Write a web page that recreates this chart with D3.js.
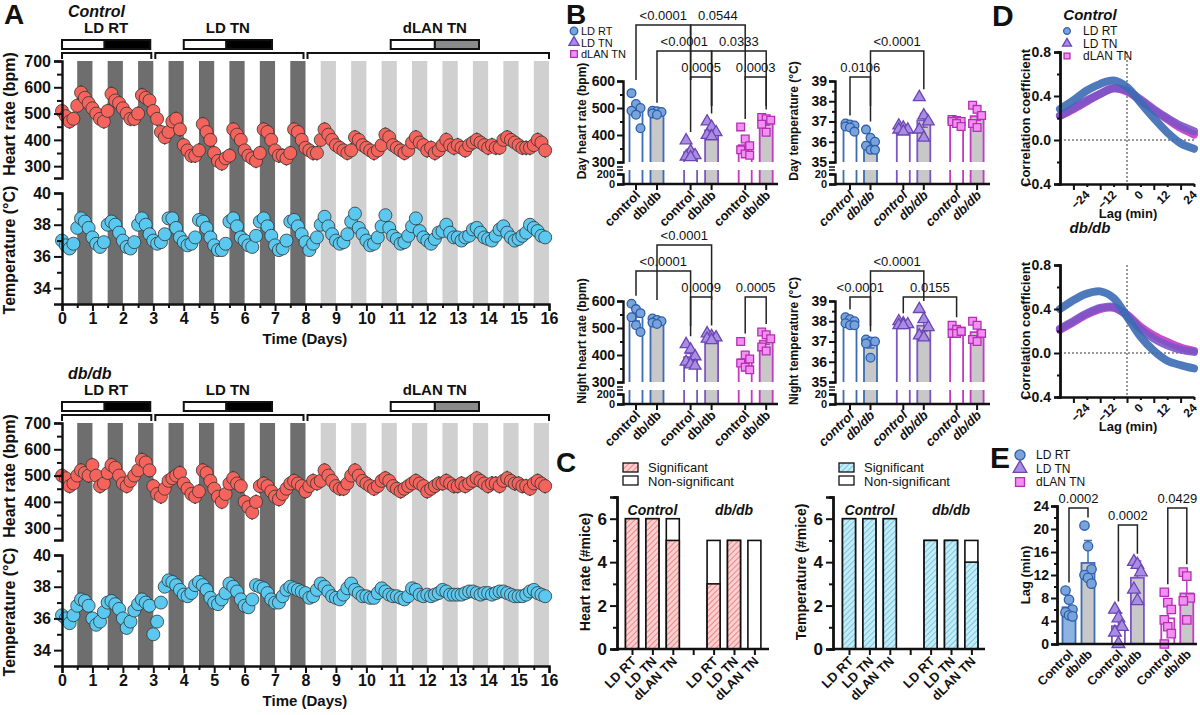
<!DOCTYPE html>
<html><head><meta charset="utf-8">
<script src="https://cdn.jsdelivr.net/npm/d3@7"></script>
<style>
body{margin:0;background:#fff}
svg{font-family:"Liberation Sans",Arial,sans-serif}
.ax .domain{stroke:#111;stroke-width:2.4}
.ax .tick line{stroke:#111;stroke-width:2}
.ax text{font-weight:bold;fill:#111}
</style></head><body>
<svg id="c" width="1200" height="715"></svg>
<script>
// ---------------- DATA ----------------
// Panel A: 8 samples per day (every 3 h), days 0..15
const ctrlHR = [
 [510,490,470,480,530,580,560,540],[520,500,480,470,510,575,550,540],[520,500,480,480,500,570,560,550],
 [510,480,430,410,430,470,480,440],[380,360,340,340,360,460,430,400],[350,320,310,330,340,440,420,400],
 [360,340,330,320,350,440,430,400],[360,340,340,330,350,440,430,400],[370,360,350,350,400,440,420,400],
 [380,370,360,350,360,410,400,380],[370,360,350,360,380,420,410,380],[370,360,350,360,390,410,390,380],
 [360,370,350,360,380,400,380,370],[380,370,360,380,390,400,390,380],[370,380,370,370,400,410,400,390],
 [380,370,370,370,380,400,390,360]];
const ctrlT = [
 [37.0,36.7,36.5,36.8,37.8,38.4,38.2,37.8],[37.2,36.8,36.6,36.9,38.0,38.2,38.0,37.5],[37.0,36.6,36.5,36.9,38.0,38.4,38.0,37.4],
 [37.0,36.8,36.9,37.4,38.4,38.4,37.8,37.2],[36.9,36.7,36.8,37.2,38.3,38.2,37.8,37.2],[36.7,36.4,36.4,36.8,38.2,38.4,37.9,37.2],
 [37.0,36.7,36.6,37.3,38.2,38.4,37.9,37.3],[36.7,36.4,36.5,37.0,38.2,38.3,37.9,37.4],[36.9,36.4,36.8,37.2,38.0,38.5,37.9,37.4],
 [37.0,36.8,36.9,37.4,38.2,38.7,37.8,37.4],[37.0,36.7,36.8,37.2,37.9,38.6,37.8,37.3],[37.1,36.8,36.9,37.3,37.9,38.4,37.6,37.2],
 [37.0,36.8,37.1,37.5,37.6,38.0,37.5,37.2],[37.2,37.0,37.2,37.3,37.7,37.8,37.5,37.2],[37.1,37.0,37.3,37.7,37.9,37.5,37.2,37.0],
 [37.1,37.3,37.5,38.0,37.8,37.6,37.3,37.2]];
const dbHR = [
 [500,490,460,470,500,520,510,500],[540,500,460,470,510,540,530,500],[470,460,480,500,520,560,550,520],
 [460,430,420,450,480,490,500,510],[470,450,430,420,440,520,510,480],[450,420,400,430,470,490,470,460],
 [400,380,360,400,460,470,460,440],[420,410,430,450,470,480,470,460],[440,460,480,470,480,520,500,480],
 [460,450,450,470,500,520,500,480],[470,460,450,460,480,490,480,460],[450,440,450,460,470,480,470,460],
 [440,450,460,470,470,480,470,460],[460,470,460,470,480,490,480,470],[460,470,470,460,480,490,480,470],
 [470,460,460,450,470,480,470,460]];
const dbT = [
 [36.2,36.0,35.7,36.2,36.8,37.2,37.1,36.8],[36.0,35.6,35.8,36.4,37.0,37.1,36.9,36.6],[36.0,35.4,35.8,36.5,36.9,37.2,37.0,36.8],
 [35.0,35.8,37.0,38.0,38.4,38.3,38.1,37.8],[37.5,37.4,37.6,38.1,38.3,38.1,37.8,37.3],[37.0,36.9,37.2,37.6,38.2,38.0,37.7,37.2],
 [36.8,36.7,37.2,38.1,38.0,37.9,37.6,37.2],[37.0,37.0,37.4,37.8,38.0,37.9,37.8,37.7],[37.6,37.3,37.4,37.8,38.2,38.0,37.7,37.4],
 [37.3,37.2,37.5,37.9,38.2,37.8,37.6,37.4],[37.4,37.3,37.3,37.6,37.9,37.7,37.5,37.4],[37.4,37.3,37.2,37.4,37.9,37.8,37.5,37.4],
 [37.5,37.4,37.5,37.6,37.8,37.7,37.5,37.5],[37.5,37.5,37.6,37.7,37.7,37.6,37.5,37.6],[37.6,37.5,37.6,37.7,37.7,37.6,37.5,37.4],
 [37.4,37.4,37.5,37.7,37.8,37.6,37.5,37.4]];
const hrErr = 28, tErr = 0.3;
const dayTicks = d3.range(0,17);
const conditions = ["LD RT","LD TN","dLAN TN"];
const groupsX = ["control","db/db"];

// Panel B: [condition][control, db/db] individual mice
const dayHR = [[[555,515,500,490,475,425],[490,488,485,480,475]],
               [[380,340,325,320,318],[450,430,410,400,395]],
               [[430,385,360,345,330,325],[465,460,455,440,410]]];
const dayT  = [[[36.9,36.85,36.8,36.75,36.7,36.5],[36.6,36.2,36.0,35.8,35.6,35.6]],
               [[36.8,36.7,36.6,36.6,36.5],[38.2,37.3,37.0,36.6,36.2]],
               [[37.1,37.05,37.0,37.0,36.9,36.75],[37.8,37.6,37.3,36.9,36.7]]];
const nightHR = [[[590,570,555,540,510,485],[535,530,525,520,515]],
                 [[440,420,395,375,365,360],[480,470,465,460,455]],
                 [[450,400,385,370,355,345],[485,475,460,430,415]]];
const nightT = [[[38.2,38.1,38.0,37.9,37.8,37.8],[37.1,37.0,37.0,36.9,36.2]],
                [[38.0,37.9,37.85,37.8,37.8],[38.6,38.1,37.7,37.3,37.2]],
                [[37.8,37.6,37.5,37.4,37.4,37.5],[38.0,37.8,37.4,37.1,37.0]]];
// brackets: [cond,group] pairs, row, p-value
const bDayHR = [[[0,0],[1,0],0,"<0.0001"],[[1,0],[2,0],0,"0.0544"],[[0,1],[1,1],1,"<0.0001"],[[1,1],[2,1],1,"0.0333"],[[1,0],[1,1],2,"0.0005"],[[2,0],[2,1],2,"0.0003"]];
const bDayT  = [[[0,1],[1,1],1,"<0.0001"],[[0,0],[0,1],2,"0.0106"]];
const bNightHR = [[[0,1],[1,1],0,"<0.0001"],[[0,0],[1,0],1,"<0.0001"],[[1,0],[1,1],2,"0.0009"],[[2,0],[2,1],2,"0.0005"]];
const bNightT = [[[0,1],[1,1],1,"<0.0001"],[[0,0],[0,1],2,"<0.0001"],[[1,0],[2,0],2,"0.0155"]];

// Panel C: number of mice
const hrSig = [[6,6,5],[3,5,0]], hrTot = [[6,6,6],[5,5,5]];
const tSig  = [[6,6,6],[5,5,4]], tTot  = [[6,6,6],[5,5,5]];
const genotypes = ["Control","db/db"];

// Panel D: cross-correlation
const lags = [-30,-24,-18,-12,-6,0,6,12,18,24,30];
const corrCtrl = [[0.28,0.36,0.45,0.51,0.54,0.48,0.34,0.20,0.07,-0.03,-0.08],
                  [0.22,0.29,0.36,0.42,0.47,0.45,0.37,0.28,0.20,0.13,0.08],
                  [0.22,0.28,0.35,0.42,0.47,0.44,0.36,0.27,0.19,0.11,0.05]];
const corrDb = [[0.40,0.48,0.54,0.56,0.50,0.33,0.15,0.02,-0.07,-0.11,-0.14],
                [0.22,0.29,0.36,0.41,0.42,0.34,0.22,0.13,0.07,0.03,0.01],
                [0.21,0.28,0.35,0.40,0.41,0.35,0.24,0.16,0.10,0.05,0.02]];
// Panel E: lag (min)
const lagVals = [[[9.3,7.7,6.0,5.5,5.0,4.8],[20.6,17.0,13.0,12.0,11.5,10.5]],
                 [[6.0,4.5,3.0,2.0,0.0],[14.3,13.8,12.5,9.5,7.5]],
                 [[9.0,7.2,6.0,4.2,3.0,1.8,0.0],[12.5,11.8,8.0,7.5,4.2]]];
const bLag = [[[0,0],[0,1],0,"0.0002"],[[1,0],[1,1],1,"0.0002"],[[2,0],[2,1],0,"0.0429"]];

// ---------------- STYLE ----------------
const ST = [
 {fill:"#78a3db",stroke:"#2f5ea8",bar:"#3b6cb4",sym:d3.symbolCircle,efill:"#8fb3e0"},
 {fill:"#a98de2",stroke:"#6b45b3",bar:"#7c55c6",sym:d3.symbolTriangle,efill:"#fff"},
 {fill:"#f290f2",stroke:"#b42fb4",bar:"#c43ac4",sym:d3.symbolSquare,efill:"#fff"}];
const svg = d3.select("#c");
const defs = svg.append("defs");
function hatch(id,bg,fg){
  const p=defs.append("pattern").attr("id",id).attr("width",4).attr("height",4)
   .attr("patternUnits","userSpaceOnUse").attr("patternTransform","rotate(45)");
  p.append("rect").attr("width",4).attr("height",4).attr("fill",bg);
  p.append("line").attr("x1",0).attr("y1",0).attr("x2",0).attr("y2",4).attr("stroke",fg).attr("stroke-width",1.6);
}
hatch("hr","#fbd0d0","#ee7373"); hatch("ht","#c6ecf8","#5fc0e0");

function txt(x,y,s,o={}){
  const t=svg.append("text").attr("x",x).attr("y",y).text(s)
   .attr("font-size",o.size||14).attr("font-weight",o.w||"bold").attr("fill","#111")
   .attr("text-anchor",o.anchor||"start");
  if(o.italic) t.attr("font-style","italic");
  if(o.rot!==undefined) t.attr("transform",`rotate(${o.rot},${x},${y})`);
  return t;
}
function axis(g,gen,fs){
  const a=g.append("g").attr("class","ax").call(gen);
  a.selectAll("text").attr("font-size",fs);
  return a;
}
const mean = a=>d3.mean(a);
const sem = a=>d3.deviation(a)/Math.sqrt(a.length);
const fmtD = d3.format("d");

// ---------------- PANEL A ----------------
function drawA(oy,hr,tp,title){
  const x=d3.scaleLinear([0,16],[62,549]);
  const yH=d3.scaleLinear([255,700],[178+oy,61+oy]);
  const yT=d3.scaleLinear([33,40],[304+oy,193+oy]);
  const g=svg.append("g");
  d3.range(16).forEach(d=>{
    g.append("rect").attr("x",x(d+0.5)).attr("width",x(d+1)-x(d+0.5))
     .attr("y",61+oy).attr("height",243).attr("fill",d<8?"#6e6e6e":"#d0d0d0");
  });
  const hdr=[[0,3,0,1.4,2.9,"#000","LD RT"],[3,8,4,5.4,6.9,"#000","LD TN"],[8,16,10.8,12.25,13.7,"#8a8a8a","dLAN TN"]];
  hdr.forEach(([s,e,b0,bm,b1,col,lab])=>{
    g.append("path").attr("d",`M${x(s)+(s?2:0)},${59+oy}V${53+oy}H${x(e)-(e<16?2:0)}V${59+oy}`)
     .attr("fill","none").attr("stroke","#111").attr("stroke-width",2);
    g.append("rect").attr("x",x(b0)).attr("y",40+oy).attr("width",x(bm)-x(b0)).attr("height",9).attr("fill","#fff").attr("stroke","#111").attr("stroke-width",2);
    g.append("rect").attr("x",x(bm)).attr("y",40+oy).attr("width",x(b1)-x(bm)).attr("height",9).attr("fill",col).attr("stroke","#111").attr("stroke-width",2);
    txt((x(b0)+x(b1))/2,33+oy,lab,{size:15,anchor:"middle"});
  });
  const pts=(arr)=>arr.flatMap((day,d)=>day.map((v,i)=>({t:d+i/8,v})));
  [[pts(hr),yH,hrErr,"#f4645c"],[pts(tp),yT,tErr,"#5bc8ef"]].forEach(([p,y,e,col])=>{
    g.selectAll(null).data(p).join("line").attr("x1",d=>x(d.t)).attr("x2",d=>x(d.t))
     .attr("y1",d=>y(d.v-e)).attr("y2",d=>y(d.v+e)).attr("stroke","#3a3a3a").attr("stroke-width",1.6);
    g.selectAll(null).data(p).join("circle").attr("cx",d=>x(d.t)).attr("cy",d=>y(d.v)).attr("r",6.5)
     .attr("fill",col).attr("stroke","#333").attr("stroke-width",0.8);
  });
  axis(g.append("g").attr("transform","translate(62,0)"),d3.axisLeft(yH).tickValues([300,400,500,600,700]).tickSize(8).tickPadding(3),16);
  axis(g.append("g").attr("transform","translate(62,0)"),d3.axisLeft(yH).tickValues([350,450,550,650]).tickSize(5).tickFormat(""),16).select(".domain").remove();
  axis(g.append("g").attr("transform","translate(62,0)"),d3.axisLeft(yT).tickValues([34,36,38,40]).tickFormat(fmtD).tickSize(8).tickPadding(3),16);
  axis(g.append("g").attr("transform","translate(62,0)"),d3.axisLeft(yT).tickValues([35,37,39]).tickSize(5).tickFormat(""),16).select(".domain").remove();
  axis(g.append("g").attr("transform",`translate(0,${304+oy})`),d3.axisBottom(x).tickValues(dayTicks).tickSize(7).tickPadding(2),16);
  axis(g.append("g").attr("transform",`translate(0,${304+oy})`),d3.axisBottom(x).tickValues(d3.range(0.5,16,1)).tickSize(4).tickFormat(""),16).select(".domain").remove();
  txt(15,114+oy,"Heart rate (bpm)",{size:16,anchor:"middle",rot:-90});
  txt(15,250+oy,"Temperature (°C)",{size:16,anchor:"middle",rot:-90});
  txt(305,344+oy,"Time (Days)",{size:15,anchor:"middle"});
  txt(68,17+oy,title,{size:16,italic:true});
}
drawA(0,ctrlHR,ctrlT,"Control");
drawA(362,dbHR,dbT,"db/db");
txt(4,24,"A",{size:28});

function marker(g,cx,cy,st,size){
  g.append("path").attr("d",d3.symbol(st.sym,size)()).attr("transform",`translate(${cx},${cy})`)
   .attr("fill",st.fill).attr("stroke",st.stroke).attr("stroke-width",1.3);
}
function bracket(g,x1,x2,yb,l1,l2,label,fs){
  g.append("path").attr("d",`M${x1},${l1}V${yb}H${x2}V${l2}`).attr("fill","none").attr("stroke","#222").attr("stroke-width",1.5);
  txt((x1+x2)/2,yb-5,label,{size:fs,w:"normal",anchor:"middle"});
}

// ---------------- PANEL B ----------------
function drawB(c){
  const g=svg.append("g");
  const xs=d3.scaleLinear([0,1],[c.x0,c.x0+c.step]);
  const pos=(ci,k)=>xs(ci*2.6+k);
  const brk=c.topPx+81, base=c.topPx+103, lowTop=c.topPx+89;
  const yTop=d3.scaleLinear(c.topDom,[brk,c.topPx]);
  const yLow=d3.scaleLinear(c.lowDom,[base,c.topPx+93]);
  c.data.forEach((cond,ci)=>cond.forEach((vals,k)=>{
    const st=ST[ci], cx=pos(ci,k), m=mean(vals), s=sem(vals), fill=k?"#c8c8c8":"#fff";
    g.append("rect").attr("x",cx-6.5).attr("width",13).attr("y",yTop(m)).attr("height",brk-yTop(m)).attr("fill",fill);
    g.append("path").attr("d",`M${cx-6.5},${brk}V${yTop(m)}H${cx+6.5}V${brk}`).attr("fill","none").attr("stroke",st.bar).attr("stroke-width",1.8);
    g.append("rect").attr("x",cx-6.5).attr("width",13).attr("y",lowTop).attr("height",base-lowTop).attr("fill",fill);
    g.append("path").attr("d",`M${cx-6.5},${lowTop}V${base}M${cx+6.5},${lowTop}V${base}`).attr("stroke",st.bar).attr("stroke-width",1.8);
    g.append("path").attr("d",`M${cx},${yTop(m-s)}V${yTop(m+s)}M${cx-4},${yTop(m+s)}H${cx+4}M${cx-4},${yTop(m-s)}H${cx+4}`).attr("stroke",st.bar).attr("stroke-width",1.5);
    vals.forEach((v,i)=>marker(g,cx+((i%3)-1)*4.5,yTop(v),st,60));
  }));
  axis(g.append("g").attr("transform",`translate(${c.ax},0)`),d3.axisLeft(yTop).tickValues(c.ticks).tickFormat(fmtD).tickSize(6).tickPadding(2),14);
  axis(g.append("g").attr("transform",`translate(${c.ax},0)`),d3.axisLeft(yTop).tickValues(c.minor).tickSize(3).tickFormat(""),14).select(".domain").remove();
  const lo=axis(g.append("g").attr("transform",`translate(${c.ax},0)`),d3.axisLeft(yLow).tickValues(c.lowTicks).tickSize(6).tickPadding(2),11);
  lo.selectAll("text").attr("dy","0.35em");
  g.append("path").attr("d",`M${c.ax-6},${c.topPx+86}h6M${c.ax-6},${c.topPx+89}h6`).attr("stroke","#111").attr("stroke-width",1.3);
  g.append("path").attr("d",`M${c.ax},${base}H${c.ax+155}`).attr("stroke","#111").attr("stroke-width",2.4);
  c.data.forEach((cond,ci)=>cond.forEach((v,k)=>{
    const cx=pos(ci,k);
    g.append("line").attr("x1",cx).attr("x2",cx).attr("y1",base).attr("y2",base+6).attr("stroke","#111").attr("stroke-width",2);
    txt(cx+5,base+12,groupsX[k],{size:13,anchor:"end",rot:-45,italic:c.italic});
  }));
  c.br.forEach(([a,b,row,p])=>{
    const x1=pos(a[0],a[1]), x2=pos(b[0],b[1]);
    const yb=c.topPx-56+row*26;
    const l=(q)=>Math.min(yb+55,yTop(d3.max(c.data[q[0]][q[1]]))-8);
    bracket(g,x1,x2,yb,Math.max(yb+4,l(a)),Math.max(yb+4,l(b)),p,13);
  });
  txt(c.ax-37,c.topPx+40,c.label,{size:12,anchor:"middle",rot:-90});
}
const hrT=[300,400,500,600], hrM=[350,450,550];
drawB({x0:636,step:21,ax:623,topPx:81,topDom:[300,600],lowDom:[0,200],ticks:hrT,minor:hrM,lowTicks:[0,200],data:dayHR,br:bDayHR,label:"Day heart rate (bpm)"});
drawB({x0:850,step:20.5,ax:835,topPx:81,topDom:[35,39],lowDom:[0,20],ticks:[35,36,37,38,39],minor:[35.5,36.5,37.5,38.5],lowTicks:[0,20],data:dayT,br:bDayT,label:"Day temperature (°C)",italic:true});
drawB({x0:636,step:21,ax:623,topPx:301,topDom:[300,600],lowDom:[0,200],ticks:hrT,minor:hrM,lowTicks:[0,200],data:nightHR,br:bNightHR,label:"Night heart rate (bpm)"});
drawB({x0:850,step:20.5,ax:835,topPx:301,topDom:[35,39],lowDom:[0,20],ticks:[35,36,37,38,39],minor:[35.5,36.5,37.5,38.5],lowTicks:[0,20],data:nightT,br:bNightT,label:"Night temperature (°C)",italic:true});
txt(566,24,"B",{size:28});
conditions.forEach((n,i)=>{ const g=svg.append("g"); marker(g,574,31+i*11.5,ST[i],45); txt(581,35+i*11.5,n,{size:11,w:"normal"}); });

// ---------------- PANEL C ----------------
function drawC(ax,x0,sig,tot,pat,label){
  const g=svg.append("g");
  const xs=d3.scaleLinear([0,1],[x0,x0+20.4]);
  const y=d3.scaleLinear([0,7],[649,497]);
  [0,1].forEach(gi=>[0,1,2].forEach(k=>{
    const cx=xs(gi*4+k);
    g.append("rect").attr("x",cx-6.5).attr("width",13).attr("y",y(tot[gi][k])).attr("height",y(0)-y(tot[gi][k])).attr("fill","#fff").attr("stroke","#111").attr("stroke-width",1.6);
    if(sig[gi][k]>0) g.append("rect").attr("x",cx-6.5).attr("width",13).attr("y",y(sig[gi][k])).attr("height",y(0)-y(sig[gi][k])).attr("fill",`url(#${pat})`).attr("stroke","#111").attr("stroke-width",1.6);
    txt(cx+5,662,conditions[k],{size:13,anchor:"end",rot:-45});
  }));
  axis(g.append("g").attr("transform",`translate(${ax},0)`),d3.axisLeft(y).tickValues([0,2,4,6]).tickFormat(fmtD).tickSize(7).tickPadding(3),17);
  axis(g.append("g").attr("transform",`translate(${ax},0)`),d3.axisLeft(y).tickValues([1,3,5,7]).tickSize(4).tickFormat(""),17);
  const xb=d3.axisBottom(xs).tickValues([0,1,2,3,4,5,6]).tickSize(6).tickFormat("").tickSizeOuter(0);
  const a=axis(g.append("g").attr("transform","translate(0,649)"),xb,13);
  a.select(".domain").attr("d",`M${ax},0H${ax+152}`);
  genotypes.forEach((n,gi)=>txt(xs(gi*4+1),515,n,{size:14,italic:true,anchor:"middle"}));
  g.append("rect").attr("x",ax+6).attr("y",463).attr("width",15).attr("height",9).attr("fill",`url(#${pat})`).attr("stroke","#111").attr("stroke-width",1.3);
  g.append("rect").attr("x",ax+6).attr("y",476).attr("width",15).attr("height",9).attr("fill","#fff").attr("stroke","#111").attr("stroke-width",1.3);
  txt(ax+31,472,"Significant",{size:13,w:"normal"});
  txt(ax+31,486,"Non-significant",{size:13,w:"normal"});
  txt(ax-27,572,label,{size:14,anchor:"middle",rot:-90});
}
drawC(617,632,hrSig,hrTot,"hr","Heart rate (#mice)");
drawC(833,849,tSig,tTot,"ht","Temperature (#mice)");
txt(556,472,"C",{size:28});

// ---------------- PANEL D ----------------
function drawD(top,bot,corr,title){
  const g=svg.append("g");
  const x=d3.scaleLinear([-30,30],[1060,1194]);
  const y=d3.scaleLinear([-0.4,0.8],[bot,top]);
  g.append("line").attr("x1",1060).attr("x2",1194).attr("y1",y(0)).attr("y2",y(0)).attr("stroke","#333").attr("stroke-dasharray","2,2");
  g.append("line").attr("x1",x(0)).attr("x2",x(0)).attr("y1",top).attr("y2",bot).attr("stroke","#333").attr("stroke-dasharray","2,2");
  [2,1,0].forEach(ci=>{
    const col=ST[ci].bar, pts=lags.map((l,i)=>[x(l),y(corr[ci][i])]);
    g.append("path").attr("d",d3.line().curve(d3.curveCatmullRom)(pts)).attr("fill","none")
     .attr("stroke",col).attr("stroke-width",8).attr("stroke-linecap","round").attr("opacity",0.9);
  });
  axis(g.append("g").attr("transform","translate(1060,0)"),d3.axisLeft(y).tickValues([-0.4,0,0.4,0.8]).tickFormat(d3.format(".1f")).tickSize(6).tickPadding(3),14);
  axis(g.append("g").attr("transform","translate(1060,0)"),d3.axisLeft(y).tickValues([-0.2,0.2,0.6]).tickSize(3).tickFormat(""),14);
  const a=axis(g.append("g").attr("transform",`translate(0,${bot})`),d3.axisBottom(x).tickValues([-24,-12,0,12,24]).tickSize(6).tickSizeOuter(0),12);
  a.selectAll("text").attr("text-anchor","end").attr("dx","0.3em").attr("dy","0.9em").attr("transform","rotate(-45)");
  axis(g.append("g").attr("transform",`translate(0,${bot})`),d3.axisBottom(x).tickValues([-18,-6,6,18,30]).tickSize(3).tickFormat(""),12).select(".domain").remove();
  txt(1030,(top+bot)/2,"Correlation coefficient",{size:13,anchor:"middle",rot:-90});
  txt(1128,bot+34,"Lag (min)",{size:13,anchor:"middle"});
  txt(1090,top-32,title,{size:15,italic:true,anchor:"middle"});
}
drawD(52,184,corrCtrl,"Control");
drawD(265,397,corrDb,"db/db");
txt(992,26,"D",{size:30});
conditions.forEach((n,i)=>{ const g=svg.append("g"); marker(g,1067,31+i*12.5,ST[i],35); txt(1083,35+i*12.5,n,{size:12,w:"normal"}); });

// ---------------- PANEL E ----------------
(function(){
  const g=svg.append("g");
  const xs=d3.scaleLinear([0,1],[1069,1088]);
  const pos=(ci,k)=>xs(ci*2.6+k);
  const y=d3.scaleLinear([0,24],[644,506]);
  lagVals.forEach((cond,ci)=>cond.forEach((vals,k)=>{
    const st=ST[ci], cx=pos(ci,k), m=mean(vals), sd=d3.deviation(vals);
    g.append("rect").attr("x",cx-6.5).attr("width",13).attr("y",y(m)).attr("height",y(0)-y(m))
     .attr("fill",k?"#c8c8c8":st.efill).attr("stroke",st.bar).attr("stroke-width",1.8);
    g.append("path").attr("d",`M${cx},${y(m)}V${y(m+sd)}M${cx-4},${y(m+sd)}H${cx+4}`).attr("stroke",st.bar).attr("stroke-width",1.5);
    vals.forEach((v,i)=>marker(g,cx+((i%3)-1)*3.5,y(v),st,70));
    txt(cx+5,655,k?"db/db":"Control",{size:12.5,anchor:"end",rot:-45});
  }));
  axis(g.append("g").attr("transform","translate(1057,0)"),d3.axisLeft(y).tickValues(d3.range(0,25,4)).tickSize(6).tickPadding(2),14);
  axis(g.append("g").attr("transform","translate(1057,0)"),d3.axisLeft(y).tickValues(d3.range(2,24,4)).tickSize(3).tickFormat(""),14);
  g.append("path").attr("d","M1057,644H1197").attr("stroke","#111").attr("stroke-width",2.4);
  bLag.forEach(([a,b,row,p])=>{
    const x1=pos(a[0],a[1]), x2=pos(b[0],b[1]), yb=508+row*17;
    const l=(q)=>Math.max(yb+4,y(d3.max(lagVals[q[0]][q[1]]))-8);
    bracket(g,x1,x2,yb,l(a),l(b),p,13);
  });
  txt(1030,575,"Lag (min)",{size:13,anchor:"middle",rot:-90});
  conditions.forEach((n,i)=>{ marker(g,1020,455+i*13.5,ST[i],80); txt(1036,459+i*13.5,n,{size:12,w:"normal"}); });
  txt(990,468,"E",{size:30});
})();
</script></body></html>
